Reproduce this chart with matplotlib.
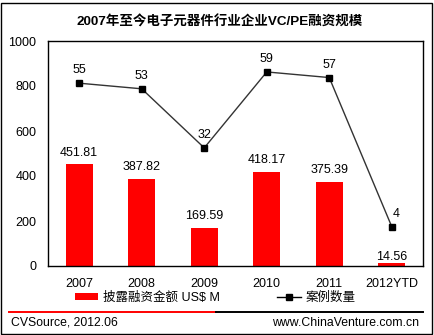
import matplotlib
matplotlib.use('Agg')
import matplotlib.pyplot as plt
from matplotlib.lines import Line2D
from matplotlib.patches import Patch, Rectangle

plt.rcParams['font.family'] = ['Liberation Sans', 'Noto Sans CJK SC', 'DejaVu Sans']
plt.rcParams['font.size'] = 9

years = ['2007', '2008', '2009', '2010', '2011', '2012YTD']
amounts = [451.81, 387.82, 169.59, 418.17, 375.39, 14.56]   # US$ M
deals = [55, 53, 32, 59, 57, 4]

W, H = 435, 335
fig = plt.figure(figsize=(W / 100, H / 100), dpi=100)

ax = fig.add_axes([48 / W, 1 - 266 / H, 375 / W, 225 / H])
x = range(len(years))
bars = ax.bar(x, amounts, width=0.43, color='#ff0000', zorder=2)
ax.set_xlim(-0.5, len(years) - 0.5)
ax.set_ylim(0, 1000)
ax.set_yticks(range(0, 1001, 200))
ax.set_xticks(list(x))
ax.set_xticklabels(years)
ax.tick_params(length=0, labelsize=9)
ax.tick_params(axis='x', pad=8.5)
ax.tick_params(axis='y', pad=8.5)
for s in ax.spines.values():
    s.set_linewidth(1)

# bar value labels
for i, (b, v) in enumerate(zip(bars, amounts)):
    dy = 4 if v > 50 else 0
    ax.annotate(f'{v:.2f}', (b.get_x() + b.get_width() / 2, v),
                xytext=(0, dy), textcoords='offset points',
                ha='center', va='bottom', fontsize=9)

# deal counts on a hidden secondary scale
ax2 = ax.twinx()
ax2.set_ylim(-10, 70)
ax2.set_yticks([])
for s in ax2.spines.values():
    s.set_visible(False)
ax2.plot(x, deals, color='#333333', lw=1, marker='s', ms=4.5,
         mfc='black', mec='black', zorder=3)
for i, v in enumerate(deals):
    dx = 3 if i == len(deals) - 1 else 0
    ax2.annotate(str(v), (i, v), xytext=(dx, 5), textcoords='offset points',
                 ha='center', va='bottom', fontsize=9)

fig.text(220 / W, 1 - 22.5 / H, '2007年至今电子元器件行业企业VC/PE融资规模',
         ha='center', va='center', fontsize=9.7, fontweight='bold')

handles = [Patch(facecolor='#ff0000', edgecolor='none'),
           Line2D([], [], color='black', lw=1, marker='s', ms=4.5)]
fig.legend(handles, ['披露融资金额 US$ M', '案例数量'], ncol=2, frameon=False,
           loc='center', bbox_to_anchor=(215 / W, 1 - 298 / H),
           handlelength=1.9, handleheight=0.5, handletextpad=0.35,
           columnspacing=4.6, fontsize=9)

# footer rule and source text
fig.add_artist(Line2D([9 / W, 216 / W], [1 - 311.5 / H] * 2, color='#ff0000', lw=1.4))
fig.add_artist(Line2D([216 / W, 423 / W], [1 - 311.5 / H] * 2, color='black', lw=1.4))
fig.text(11 / W, 1 - 322.5 / H, 'CVSource, 2012.06', ha='left', va='center', fontsize=8.8)
fig.text(419 / W, 1 - 322.5 / H, 'www.ChinaVenture.com.cn', ha='right', va='center', fontsize=8.8)

fig.add_artist(Rectangle((1.5 / W, 1.5 / H), 431 / W, 331 / H, fill=False,
                         edgecolor='black', lw=1, transform=fig.transFigure))

fig.savefig('out.png', dpi=100, facecolor='white')
